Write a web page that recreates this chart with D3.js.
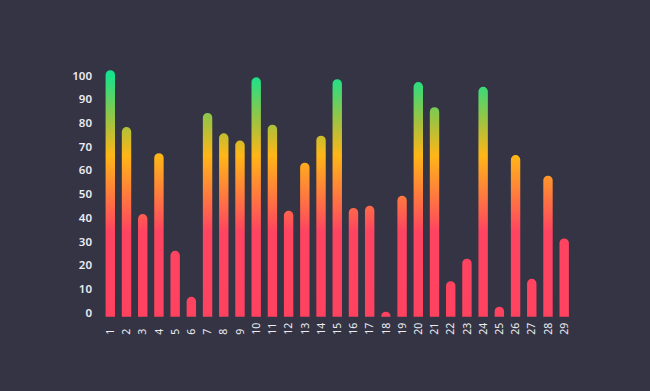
<!DOCTYPE html>
<html>
<head>
<meta charset="utf-8">
<script src="https://cdn.jsdelivr.net/npm/d3@7"></script>
<style>
    html, body { margin: 0; padding: 0; background: #343444; }
    svg { display: block; }
</style>
</head>
<body>
<div id="chart"></div>
<script>
// Chart data
const categories = ["1","2","3","4","5","6","7","8","9","10","11","12","13","14","15",
    "16","17","18","19","20","21","22","23","24","25","26","27","28","29"];
const values = [104, 80, 43.3, 69, 27.8, 8.4, 86, 77.4, 74.3, 101, 81, 44.7, 65, 76.4, 100.2,
    45.9, 46.8, 2.1, 51, 99, 88.4, 15, 24.5, 97, 4.2, 68.2, 16, 59.5, 33];
const yTicks = [0, 10, 20, 30, 40, 50, 60, 70, 80, 90, 100];

// Gradient stops, keyed by value on the y axis
const gradientStops = [
    { value: 0, color: "#ff4260" },
    { value: 36, color: "#ff4461" },
    { value: 52, color: "#ff7d3c" },
    { value: 68, color: "#ffb617" },
    { value: 82, color: "#a3c23e" },
    { value: 102, color: "#16e28c" }
];

function createBarChart(container) {
    const width = 650;
    const height = 391;

    const x = d3.scaleBand()
        .domain(categories)
        .range([102.2, 572.3])
        .paddingInner(0.42)
        .paddingOuter(0.21);

    const y = d3.scaleLinear()
        .domain([0, 100])
        .range([316.7, 79.7]);

    const svg = d3.select(container).append("svg")
        .attr("width", width)
        .attr("height", height)
        .attr("viewBox", [0, 0, width, height]);

    svg.append("rect")
        .attr("width", width)
        .attr("height", height)
        .attr("fill", "#343444");

    // Vertical gradient shared by every bar
    const grad = svg.append("defs").append("linearGradient")
        .attr("id", "barGradient")
        .attr("gradientUnits", "userSpaceOnUse")
        .attr("x1", 0).attr("x2", 0)
        .attr("y1", y(0)).attr("y2", y(102));
    grad.selectAll("stop")
        .data(gradientStops)
        .join("stop")
        .attr("offset", d => d.value / 102)
        .attr("stop-color", d => d.color);

    // Bar with a rounded top and a flat bottom
    const barPath = (d, i) => {
        const x0 = x(categories[i]);
        const w = x.bandwidth();
        const r = w / 2;
        const top = y(d);
        const base = y(0);
        const p = d3.path();
        p.moveTo(x0, base);
        p.lineTo(x0, Math.min(top + r, base));
        p.arcTo(x0, top, x0 + r, top, r);
        p.arcTo(x0 + w, top, x0 + w, top + r, r);
        p.lineTo(x0 + w, base);
        p.closePath();
        return p.toString();
    };

    svg.append("g")
        .selectAll("path")
        .data(values)
        .join("path")
        .attr("d", barPath)
        .attr("fill", "url(#barGradient)");

    // Y axis labels
    svg.append("g")
        .attr("transform", "translate(92,0)")
        .call(d3.axisLeft(y).tickValues(yTicks).tickSize(0).tickPadding(0))
        .call(g => g.select(".domain").remove())
        .call(g => g.selectAll("text")
            .attr("dy", "-0.05em")
            .attr("fill", "#ececf2")
            .attr("font-family", "'Noto Sans', sans-serif")
            .attr("font-weight", "600")
            .attr("font-size", "11.5px"));

    // X axis labels, rotated
    svg.append("g")
        .attr("transform", `translate(0,${y(0)})`)
        .call(d3.axisBottom(x).tickSize(0).tickPadding(0))
        .call(g => g.select(".domain").remove())
        .call(g => g.selectAll("text")
            .attr("transform", "rotate(-90)")
            .attr("x", -18)
            .attr("y", 0)
            .attr("dy", "0.35em")
            .attr("text-anchor", "start")
            .attr("fill", "#ececf2")
            .attr("font-family", "'Noto Sans', sans-serif")
            .attr("font-size", "10.5px"));
}

createBarChart("#chart");
</script>
</body>
</html>
